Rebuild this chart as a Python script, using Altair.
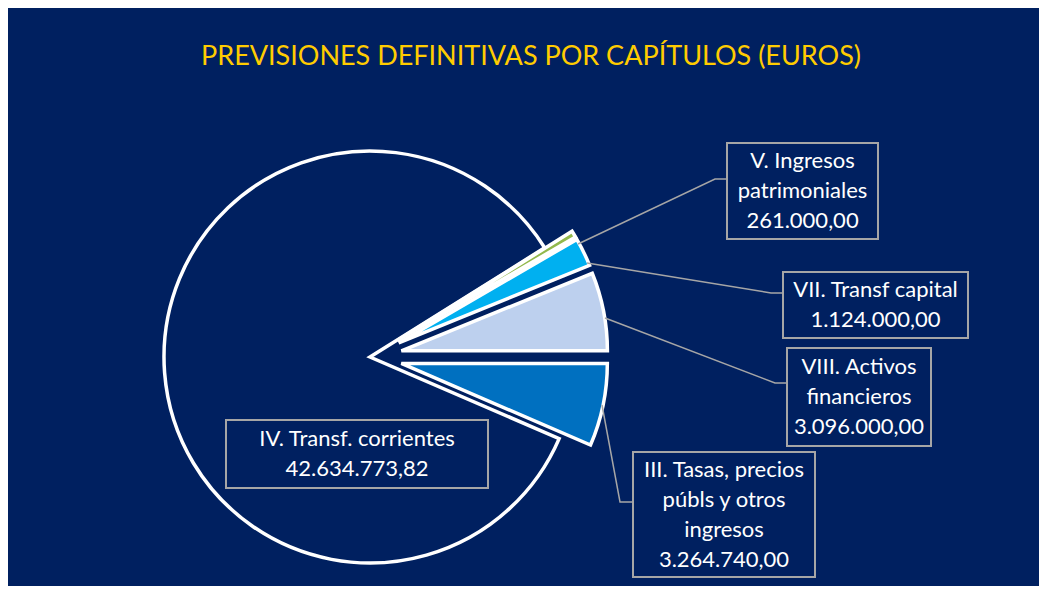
import altair as alt
import pandas as pd

# ---- data ----
keys = ["III", "IV", "V", "VII", "VIII"]
names = [
    "III. Tasas, precios\npúbls y otros\ningresos",
    "IV. Transf. corrientes",
    "V. Ingresos\npatrimoniales",
    "VII. Transf capital",
    "VIII. Activos\nfinancieros",
]
values = [3264740.00, 42634773.82, 261000.00, 1124000.00, 3096000.00]
title_text = "PREVISIONES DEFINITIVAS POR CAPÍTULOS (EUROS)"

# ---- styles / layout ----
BG = "#002060"
colors = ["#0070C0", "#002060", "#92B84C", "#00B0F0", "#BDD0EE"]
explode = [32, 0, 32, 32, 32]
W, H = 1031, 578
CX, CY, R = 362, 349, 206
START = "PI/2"
FONT = "Lato"
GRAY = "#A6A6A6"
LH = 30

# label boxes: x0, x1, y0, y1 (chart pixels)
boxes = {
    "III": (625, 807, 444, 569),
    "IV": (218, 480, 412, 480),
    "V": (719, 870, 135, 231),
    "VII": (775, 960, 264, 330),
    "VIII": (779, 923, 340, 438),
}
# leader lines (chart pixels)
leaders = {
    "V": [(570, 236), (707, 171), (719, 171)],
    "VII": [(579, 255), (763, 285), (775, 285)],
    "VIII": [(597, 310), (767, 375), (779, 375)],
    "III": [(594, 397), (612, 494), (625, 494)],
}


def fmt(v):
    s = f"{v:,.2f}"
    return s.replace(",", "X").replace(".", ",").replace("X", ".")


pie_df = pd.DataFrame({
    "key": keys,
    "value": values,
    "order": list(range(len(keys))),
    "explode": explode,
})

pie = alt.Chart(pie_df).transform_window(
    cum="sum(value)", sort=[alt.SortField("order")], frame=[None, 0]
).transform_joinaggregate(
    total="sum(value)"
).transform_calculate(
    t0=f"{START} + 2*PI*(datum.cum - datum.value)/datum.total",
    t1=f"{START} + 2*PI*datum.cum/datum.total",
).transform_calculate(
    mid="(datum.t0 + datum.t1)/2"
).transform_calculate(
    px=f"{CX} + datum.explode*sin(datum.mid)",
    py=f"{CY} - datum.explode*cos(datum.mid)",
).mark_arc(radius=R, stroke="white", strokeWidth=3.5, strokeJoin="miter").encode(
    theta=alt.Theta("t0:Q", scale=None),
    theta2="t1:Q",
    x=alt.X("px:Q", scale=None),
    y=alt.Y("py:Q", scale=None),
    color=alt.Color("key:N", scale=alt.Scale(domain=keys, range=colors), legend=None),
    order=alt.Order("order:Q"),
)

lead_rows = []
for k, pts in leaders.items():
    for i, (x, y) in enumerate(pts):
        lead_rows.append({"key": k, "i": i, "x": x, "y": y})
lead = alt.Chart(pd.DataFrame(lead_rows)).mark_line(color=GRAY, strokeWidth=1.5).encode(
    x=alt.X("x:Q", scale=None),
    y=alt.Y("y:Q", scale=None),
    detail="key:N",
    order="i:Q",
)

lab_rows = []
for k, n, v in zip(keys, names, values):
    x0, x1, y0, y1 = boxes[k]
    label = f"{n}\n{fmt(v)}"
    nlines = label.count("\n") + 1
    lab_rows.append({
        "key": k, "label": label,
        "x0": x0, "x1": x1, "y0": y0, "y1": y1,
        "xc": (x0 + x1) / 2,
        "yt": (y0 + y1) / 2 - (nlines - 1) * LH / 2,
    })
lab_df = pd.DataFrame(lab_rows)

box = alt.Chart(lab_df).mark_rect(fill=BG, stroke=GRAY, strokeWidth=2).encode(
    x=alt.X("x0:Q", scale=None), x2="x1:Q",
    y=alt.Y("y0:Q", scale=None), y2="y1:Q",
)
txt = alt.Chart(lab_df).mark_text(
    font=FONT, fontSize=22, color="white", lineBreak="\n", lineHeight=LH,
    align="center", baseline="middle",
).encode(
    x=alt.X("xc:Q", scale=None),
    y=alt.Y("yt:Q", scale=None),
    text="label:N",
)

title = alt.Chart(pd.DataFrame({"t": [title_text]})).mark_text(
    font=FONT, fontSize=27, color="#FFCC00", align="center", baseline="alphabetic",
).encode(
    x=alt.value(523), y=alt.value(57), text="t:N",
)

chart = alt.layer(pie, lead, box, txt, title).properties(
    width=W, height=H, background=BG, padding=0,
    autosize=alt.AutoSizeParams(type="none"),
).configure_view(strokeWidth=0)

chart.save("out.html", embed_options={"renderer": "svg", "actions": False})
